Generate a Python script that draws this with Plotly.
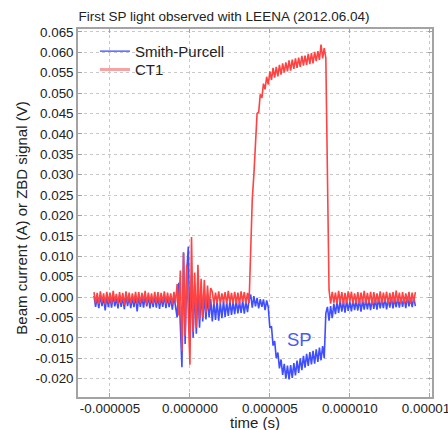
import numpy as np
import plotly.graph_objects as go

# Oscilloscope sampling grid (microseconds)
T0_US = -6.0
DT_US = 0.1

# CT1 trace, mV, one value per 0.1 us sample from -6.0 us
ct1_mV = [
    # -6.0 .. -0.9
    1.2, -1.5, 1.0, -1.7, 1.4, -1.3, 0.9, -1.8, 1.3, -1.4,
    1.1, -1.6, 1.5, -1.2, 0.8, -1.7, 1.2, -1.5, 1.0, -1.9,
    1.4, -1.3, 1.1, -1.6, 0.9, -1.4, 1.3, -1.7, 1.2, -1.5,
    1.0, -1.2, 1.5, -1.8, 1.1, -1.4, 0.9, -1.6, 1.3, -1.5,
    1.2, -1.7, 1.0, -1.3, 1.4, -1.6, 1.1, -1.5, 0.9, -1.8,
    1.3, -1.4,
    # -0.8 .. 1.3 (burst)
    3.2, -4.5, 6.5, -13.3, 10.8, -9.5, 8.0, -7.0, -16.6, 14.7,
    -8.5, 6.0, -7.5, 7.9, -5.5, 4.5, -5.0, 4.2, -3.8, 2.8,
    -3.0, 2.2,
    # 1.4 .. 3.7
    1.3, -1.8, 1.1, -1.5, 1.4, -1.6, 0.9, -1.3, 1.2, -1.7,
    1.5, -1.4, 1.0, -1.6, 1.3, -1.5, 1.1, -1.8, 1.4, -1.2,
    1.2, -1.6, 1.0, -1.4,
    # 3.8 .. 8.5 (beam pulse)
    12.0, 24.0, 30.0, 38.0, 45.0, 45.3, 49.7, 48.8, 52.3, 50.9,
    54.0, 52.1, 55.3, 53.2, 56.2, 53.8, 56.4, 54.1, 56.9, 54.5,
    57.3, 55.0, 57.5, 55.3, 58.0, 55.5, 58.2, 55.9, 58.5, 56.2,
    58.7, 56.4, 59.1, 56.7, 59.2, 56.9, 59.6, 57.1, 59.8, 57.3,
    60.1, 57.8, 60.3, 58.1, 61.9, 58.5, 61.0, 58.6,
    # 8.6 .. 14.1
    29.0, 1.8,
    -1.6, 1.3, -1.4, 1.1, -1.7, 1.5, -1.3, 1.2, -1.8, 1.0,
    -1.5, 1.4, -1.2, 1.3, -1.6, 0.9, -1.4, 1.2, -1.7, 1.1,
    -1.3, 1.5, -1.6, 1.0, -1.4, 1.3, -1.8, 1.2, -1.5, 0.9,
    -1.3, 1.4, -1.6, 1.1, -1.2, 1.3, -1.7, 1.0, -1.5, 1.2,
    -1.4, 1.6, -1.3, 1.1, -1.6, 1.2, -1.5, 0.9, -1.4, 1.3,
    -1.7, 1.1, -1.3, 1.2,
]

# Smith-Purcell (ZBD) trace, mV, same sampling
sp_mV = [
    # -6.0 .. -0.9
    0.3, -2.4, 0.0, -2.7, 0.4, -2.2, -0.1, -3.3, 0.2, -2.5,
    0.1, -2.6, 0.5, -2.3, -0.2, -2.8, 0.3, -2.4, 0.0, -3.0,
    0.4, -2.2, 0.1, -2.7, -0.1, -2.5, 0.3, -3.5, 0.2, -2.4,
    0.0, -2.6, 0.4, -2.3, 0.1, -2.8, -0.1, -2.5, 0.3, -2.6,
    0.2, -2.9, 0.0, -2.4, 0.4, -2.7, 0.1, -2.5, -0.1, -3.1,
    0.3, -2.6,
    # -0.8 .. 1.3 (burst)
    -5.0, 3.5, -9.0, -17.2, 11.0, -11.5, 6.0, 12.4, -11.0, 5.5,
    -10.0, 3.0, -9.0, 2.0, -7.5, 1.5, -6.0, 0.5, -5.5, 0.0,
    -5.0, -0.5,
    # 1.4 .. 3.7
    -6.0, -1.2, -5.6, -1.0, -5.8, -1.4, -5.2, -0.9, -4.9, -1.3,
    -4.6, -1.0, -4.4, -1.2, -4.2, -0.8, -4.0, -1.1, -3.9, -0.9,
    -4.1, -1.0, -3.7, -0.7,
    # 3.8 .. 8.5 (SP signal)
    0.6, -2.6, 0.2, -2.3, -0.2, -2.8, -0.5, -2.4, -0.6, -3.2,
    -0.8, -2.5, -7.6, -7.2, -11.9, -10.8, -15.0, -13.6, -17.5, -15.3,
    -19.1, -16.4, -20.0, -16.8, -20.2, -16.7, -19.8, -16.2, -19.2, -15.6,
    -18.6, -15.0, -17.9, -14.4, -17.3, -13.9, -16.9, -13.5, -16.5, -13.2,
    -16.3, -12.8, -15.9, -12.4, -15.5, -12.0, -15.0, -4.0,
    # 8.6 .. 14.1
    -2.4, -5.8, -2.2, -5.2, -1.6, -4.2, -1.2, -3.9,
    -0.9, -3.6, -1.0, -3.8, -0.8, -3.4, -1.1, -3.5, -0.7, -3.2,
    -0.9, -3.3, -0.6, -3.6, -0.8, -3.1, -0.5, -3.0, -0.7, -3.2,
    -0.4, -2.9, -0.6, -3.1, -0.3, -2.8, -0.5, -2.7, -0.2, -3.0,
    -0.4, -2.6, -0.1, -2.8, -0.3, -2.5, -0.2, -2.6, 0.0, -2.4,
    -0.1, -2.7, 0.1, -2.3, -0.2, -2.5, 0.0, -2.2,
]

x_tickvals = [-0.000005, 0.0, 0.000005, 0.000010, 0.000015]
x_ticktext = ["-0.000005", "0.000000", "0.000005", "0.000010", "0.000015"]
y_tickvals = [-0.020, -0.015, -0.010, -0.005, 0.000, 0.005, 0.010, 0.015, 0.020,
              0.025, 0.030, 0.035, 0.040, 0.045, 0.050, 0.055, 0.060, 0.065]
y_ticktext = ["-0.020", "-0.015", "-0.010", "-0.005", "0.000", "0.005", "0.010", "0.015", "0.020",
              "0.025", "0.030", "0.035", "0.040", "0.045", "0.050", "0.055", "0.060", "0.065"]

t_ct1 = (T0_US + DT_US * np.arange(len(ct1_mV))) * 1e-6
t_sp = (T0_US + DT_US * np.arange(len(sp_mV))) * 1e-6
ct1_V = np.array(ct1_mV) * 1e-3
sp_V = np.array(sp_mV) * 1e-3

FONT = "Liberation Sans, Arial, Helvetica, sans-serif"
BLUE = "#3f4eff"
RED = "#ff4242"
FRAME = "#a3a3a3"
GRID = "#c9c9c9"
TXT = "#222222"

fig = go.Figure()
fig.add_trace(go.Scatter(x=t_sp, y=sp_V, mode="lines", name="Smith-Purcell",
                         line=dict(color=BLUE, width=1.6), showlegend=False))
fig.add_trace(go.Scatter(x=t_ct1, y=ct1_V, mode="lines", name="CT1",
                         line=dict(color=RED, width=1.6), showlegend=False))
# legend swatches
fig.add_trace(go.Scatter(x=[None], y=[None], mode="lines", name="Smith-Purcell",
                         line=dict(color="#5565ff", width=1.5), legend="legend"))
fig.add_trace(go.Scatter(x=[None], y=[None], mode="lines", name="CT1",
                         line=dict(color="#f7a3a3", width=3), legend="legend2"))

axis_common = dict(
    showgrid=True, gridcolor=GRID, griddash="dot", gridwidth=1,
    showline=True, linecolor=FRAME, linewidth=1.5, mirror="ticks",
    ticks="inside", ticklen=4, tickcolor=FRAME, tickwidth=1,
    zeroline=False, automargin=False,
    tickfont=dict(family=FONT, size=13.4, color=TXT),
)

legend_common = dict(xanchor="left", yanchor="middle", x=0.048,
                     bgcolor="rgba(0,0,0,0)", borderwidth=0,
                     font=dict(family=FONT, size=15, color=TXT))

fig.update_layout(
    width=448, height=430,
    margin=dict(l=78, r=16, t=29, b=33, autoexpand=False),
    paper_bgcolor="white", plot_bgcolor="white",
    font=dict(family=FONT, color=TXT),
    title=dict(text="First SP light observed with LEENA (2012.06.04)",
               x=0.5, xanchor="center", y=1 - 16 / 430, yanchor="middle",
               font=dict(family=FONT, size=13.5, color=TXT)),
    xaxis=dict(range=[-7.0e-6, 15.14e-6], tickmode="array",
               tickvals=x_tickvals, ticktext=x_ticktext, ticklabelstandoff=-2,
               ticklabeloverflow="allow", **axis_common),
    yaxis=dict(range=[-0.0245, 0.0657], tickmode="array",
               tickvals=y_tickvals, ticktext=y_ticktext, **axis_common),
    legend=dict(y=1 - (51.7 - 29.3) / 368, **legend_common),
    legend2=dict(y=1 - (70.0 - 29.3) / 368, **legend_common),
    annotations=[
        dict(x=6.86e-6, y=-0.0105, xref="x", yref="y", text="SP",
             showarrow=False, font=dict(family=FONT, size=18.5, color="#4a5cf0")),
        dict(x=(254.7 - 78) / 354, y=-(423 - 397.3) / 368, xref="paper", yref="paper",
             text="time (s)", showarrow=False, xanchor="center", yanchor="middle",
             font=dict(family=FONT, size=15, color=TXT)),
        dict(x=(22 - 78) / 354, y=1 - (219 - 29.3) / 368, xref="paper", yref="paper",
             text="Beam current (A) or ZBD signal (V)", textangle=-90, showarrow=False,
             xanchor="center", yanchor="middle",
             font=dict(family=FONT, size=15, color=TXT)),
    ],
)

fig.write_html(
    "out.html",
    config={"displayModeBar": False},
    post_script="document.body.style.margin='0';document.body.style.padding='0';",
)
